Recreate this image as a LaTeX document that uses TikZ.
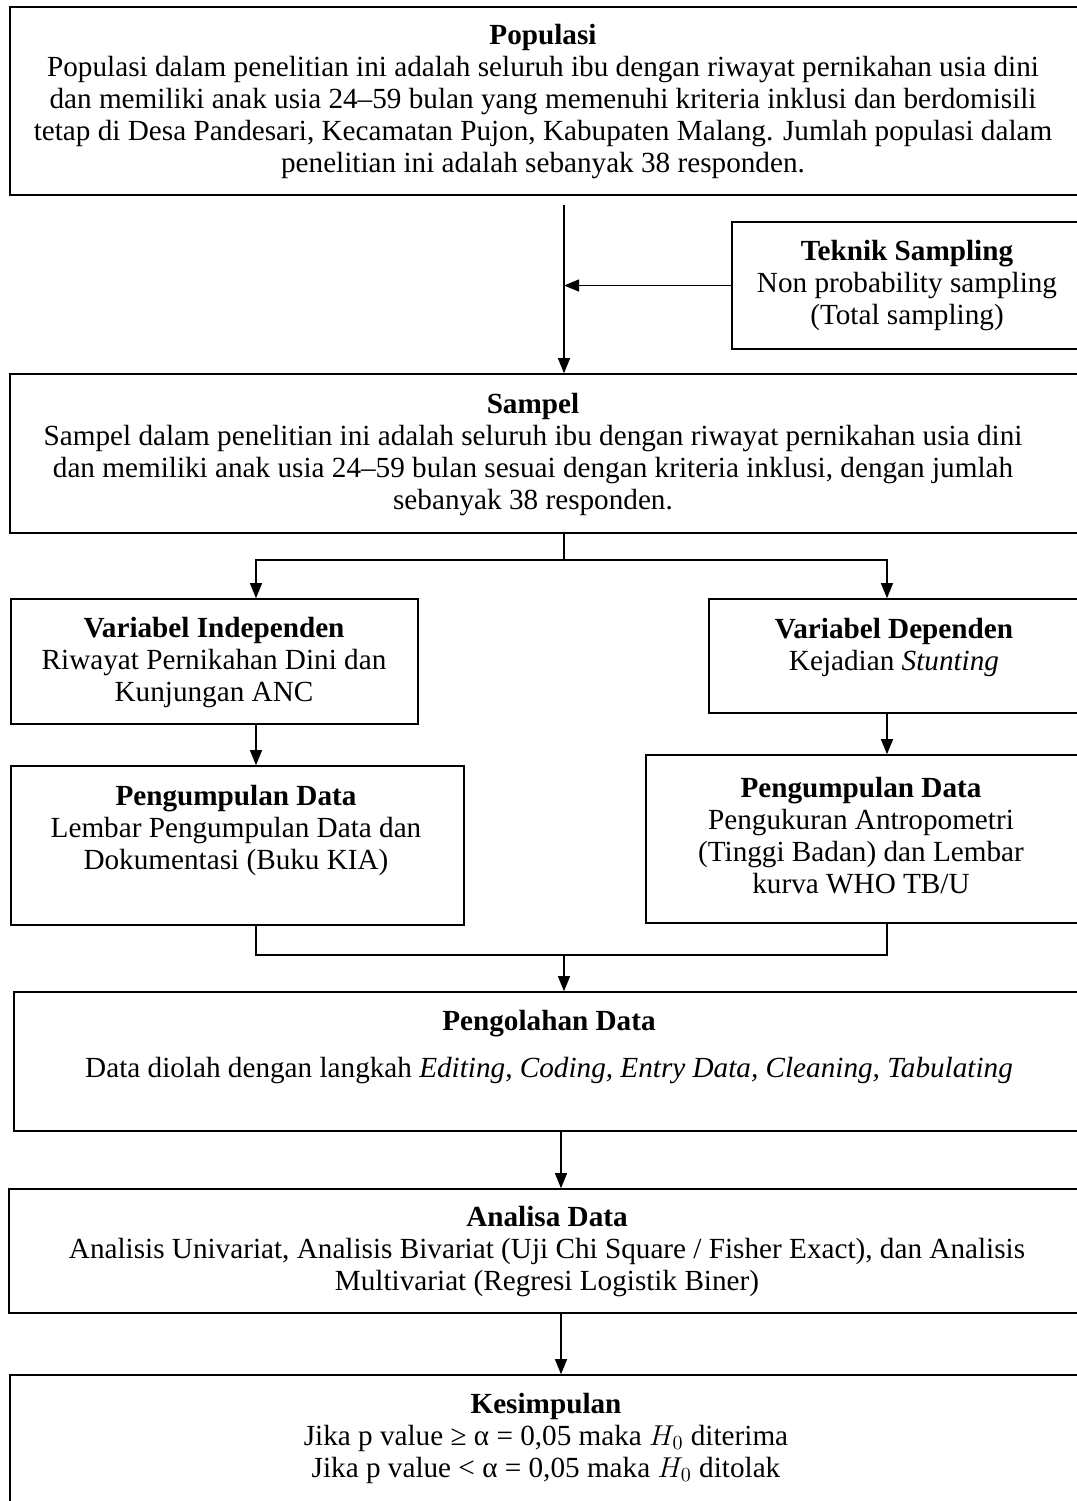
\documentclass[tikz,border=0pt]{standalone}
\usepackage{fontspec}
\setmainfont{Liberation Serif}
\usetikzlibrary{arrows.meta,fit}
\begin{document}
\begin{tikzpicture}[x=0.5pt,y=-0.5pt,
  box/.style={draw=black, line width=0.8pt, inner sep=0pt, rectangle},
  txt/.style={align=center, inner sep=0pt, font=\fontsize{14.6}{16}\selectfont},
  conn/.style={line width=0.55pt},
  arr/.style={conn, -{Triangle[length=7.5pt,width=6pt]}}]
\useasboundingbox (0,0) rectangle (1077,1501);
\fill[white] (0,0) rectangle (1077,1501);
\clip (0,0) rectangle (1077,1501);

% boxes
\node[box, fit={(10,7) (1085,195)}] (pop) {};
\node[box, fit={(732,222) (1085,349)}] (tek) {};
\node[box, fit={(10,374) (1085,533)}] (samp) {};
\node[box, fit={(11,599) (418,724)}] (vi) {};
\node[box, fit={(709,599) (1085,713)}] (vd) {};
\node[box, fit={(11,766) (464,925)}] (pl) {};
\node[box, fit={(646,755) (1085,923)}] (pr) {};
\node[box, fit={(14,992) (1085,1131)}] (olah) {};
\node[box, fit={(9,1189) (1085,1313)}] (ana) {};
\node[box, fit={(10,1375) (1085,1520)}] (kes) {};

% texts
\node[txt] (popT) at (543,102) {\textbf{Populasi}\\
Populasi dalam penelitian ini adalah seluruh ibu dengan riwayat pernikahan usia dini\\
dan memiliki anak usia 24–59 bulan yang memenuhi kriteria inklusi dan berdomisili\\
tetap di Desa Pandesari, Kecamatan Pujon, Kabupaten Malang. Jumlah populasi dalam\\
penelitian ini adalah sebanyak 38 responden.};
\node[txt] (tekT) at (907,286) {\textbf{Teknik Sampling}\\ Non probability sampling\\ (Total sampling)};
\node[txt] (sampT) at (533,455) {\textbf{Sampel}\\
Sampel dalam penelitian ini adalah seluruh ibu dengan riwayat pernikahan usia dini\\
dan memiliki anak usia 24–59 bulan sesuai dengan kriteria inklusi, dengan jumlah\\
sebanyak 38 responden.};
\node[txt] (viT) at (214,663) {\textbf{Variabel Independen}\\ Riwayat Pernikahan Dini dan\\ Kunjungan ANC};
\node[txt] (vdT) at (894,647) {\textbf{Variabel Dependen}\\ Kejadian \textit{Stunting}};
\node[txt] (plT) at (236,830) {\textbf{Pengumpulan Data}\\ Lembar Pengumpulan Data dan\\ Dokumentasi (Buku KIA)};
\node[txt] (prT) at (861,836) {\textbf{Pengumpulan Data}\\ Pengukuran Antropometri\\ (Tinggi Badan) dan Lembar\\ kurva WHO TB/U};
\node[txt] (olahT) at (549,1047) {\textbf{Pengolahan Data}\\[7.5pt] Data diolah dengan langkah \textit{Editing, Coding, Entry Data, Cleaning, Tabulating}};
\node[txt] (anaT) at (547,1252) {\textbf{Analisa Data}\\
Analisis Univariat, Analisis Bivariat (Uji Chi Square / Fisher Exact), dan Analisis\\
Multivariat (Regresi Logistik Biner)};
\node[txt] (kesT) at (546,1438) {\textbf{Kesimpulan}\\
Jika p value ≥ α = 0,05 maka $H_0$ diterima\\
Jika p value < α = 0,05 maka $H_0$ ditolak};

% connector coordinates
\coordinate (ax) at (564,0);
\coordinate (split) at (564,560);
\coordinate (L1) at (256,560);
\coordinate (R1) at (887,560);
\coordinate (merge) at (564,955);
\coordinate (L2) at (256,955);
\coordinate (R2) at (887,955);
\coordinate (bx) at (561,0);

% connectors
\draw[arr, shorten <=4.5pt] (pop.south -| ax) -- (samp.north -| ax);
\draw[arr] (tek.west) -- (tek.west -| ax);
\draw[conn] (samp.south -| split) -- (split);
\draw[arr] (split) -- (L1) -- (vi.north -| L1);
\draw[arr] (split) -- (R1) -- (vd.north -| R1);
\draw[arr] (vi.south -| L1) -- (pl.north -| L1);
\draw[arr] (vd.south -| R1) -- (pr.north -| R1);
\draw[conn] (pl.south -| L2) -- (L2) -- (R2) -- (pr.south -| R2);
\draw[arr] (merge) -- (olah.north -| merge);
\draw[arr] (olah.south -| bx) -- (ana.north -| bx);
\draw[arr] (ana.south -| bx) -- (kes.north -| bx);
\end{tikzpicture}
\end{document}
